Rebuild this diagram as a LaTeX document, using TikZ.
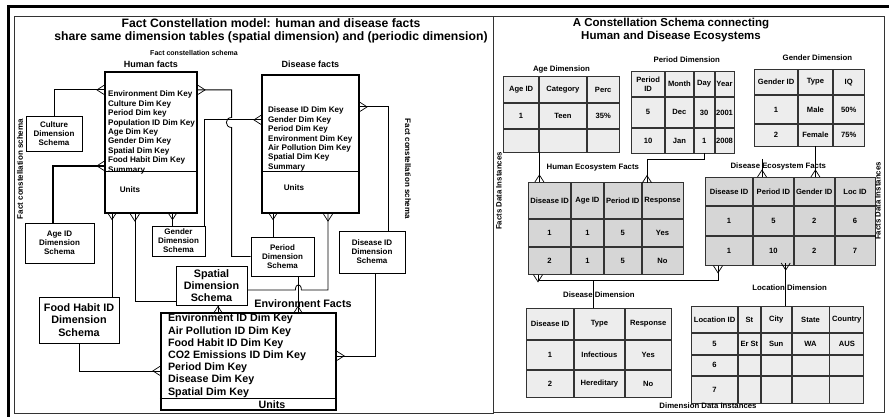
\documentclass[tikz,border=0pt]{standalone}
\usepackage{fontspec}
\setmainfont{Liberation Sans}
\usetikzlibrary{positioning,matrix,arrows.meta}

\pgfdeclarearrow{
  name = crowfoot,
  setup code = {
    \pgfarrowssettipend{0pt}
    \pgfarrowssetlineend{0pt}
    \pgfarrowssetbackend{-7pt}
  },
  drawing code = {
    \pgfsetlinewidth{0.7pt}
    \pgfpathmoveto{\pgfpoint{0pt}{4.5pt}}
    \pgfpathlineto{\pgfpoint{-7pt}{0pt}}
    \pgfpathlineto{\pgfpoint{0pt}{-4.5pt}}
    \pgfusepathqstroke
  }
}

\tikzset{
  ttl/.style={align=center, inner sep=0pt, font=\fontsize{11.5}{13}\selectfont\bfseries},
  hd/.style={inner sep=1pt, font=\fontsize{9}{11}\selectfont\bfseries},
  lbl/.style={inner sep=1pt, font=\fontsize{7.8}{9}\selectfont\bfseries},
  side/.style={inner sep=1pt, font=\fontsize{8}{9}\selectfont\bfseries},
  keys/.style={align=left, inner sep=0pt, font=\fontsize{8.1}{9.4}\selectfont\bfseries},
  bigkeys/.style={align=left, inner sep=0pt, font=\fontsize{10.7}{12.2}\selectfont\bfseries},
  fact/.style={draw, line width=2.2pt},
  schema/.style={draw, line width=0.8pt, align=center, inner sep=1pt, font=\fontsize{8}{9}\selectfont\bfseries},
  bigschema/.style={schema, font=\fontsize{10.8}{12.3}\selectfont\bfseries},
  link/.style={line width=0.8pt, -{crowfoot}},
  tbl/.style={matrix of nodes, nodes in empty cells, inner sep=0pt, row sep=0pt, column sep=0pt,
    nodes={draw=black!80, fill=black!7, line width=0.8pt, inner sep=1pt, outer sep=0pt, anchor=center,
      font=\fontsize{7.6}{8.6}\selectfont\bfseries}},
  facttbl/.style={tbl, nodes={fill=black!16}},
}

\begin{document}
\begin{tikzpicture}[x=1pt, y=-1pt]
\useasboundingbox (0,0) rectangle (889,417);
% frames
\draw[line width=3pt] (8,417) -- (8,7) -- (889,7);
\draw[line width=0.8pt, black!80] (14,16) rectangle (493,413);
\draw[line width=0.8pt, black!80] (493,16) rectangle (884,412);

% left panel: fact constellation model
\node[ttl, font=\fontsize{12.2}{13}\selectfont\bfseries] (ltitle) at (271,30.5) {Fact Constellation model: human and disease facts\\share same dimension tables (spatial dimension) and (periodic dimension)};
\node[lbl, font=\fontsize{7}{8}\selectfont\bfseries] (fcsTop) at (194,53) {Fact constellation schema};
\node[side, rotate=90] (fcsL) at (20,169) {Fact constellation schema};
\node[side, rotate=-90] (fcsR) at (408,169) {Fact constellation schema};

\node[fact, minimum width=92, minimum height=141] (hum) at (151,142.5) {};
\node[hd, above=2pt of hum] (humHead) {Human facts};
\node[keys, anchor=north west] (humK) at ([xshift=4pt, yshift=-20pt]hum.north west) {Environment Dim Key\\Culture Dim Key\\Period Dim key\\Population ID Dim Key\\Age Dim Key\\Gender Dim Key\\Spatial Dim Key\\Food Habit Dim Key\\Summary};
\draw[line width=0.8pt] ([yshift=-101pt]hum.north west) -- ([yshift=-101pt]hum.north east);
\node[keys] (humU) at (130,190) {Units};

\node[fact, minimum width=97, minimum height=138] (dis) at (310.5,144) {};
\node[hd, above=5pt of dis] (disHead) {Disease facts};
\node[keys, anchor=north west] (disK) at ([xshift=7pt, yshift=-33pt]dis.north west) {Disease ID Dim Key\\Gender Dim Key\\Period Dim Key\\Environment Dim Key\\Air Pollution Dim Key\\Spatial Dim Key\\Summary};
\draw[line width=0.8pt] ([yshift=-98pt]dis.north west) -- ([yshift=-98pt]dis.north east);
\node[keys] (disU) at (294,188) {Units};

\node[fact, minimum width=175, minimum height=97] (env) at (248.5,361.5) {};
\node[hd, font=\fontsize{10.8}{12}\selectfont\bfseries, above=3pt of env, xshift=54.5pt] (envHead) {Environment Facts};
\node[bigkeys, anchor=north west] (envK) at ([xshift=8pt, yshift=-2pt]env.north west) {Environment ID Dim Key\\Air Pollution ID Dim Key\\Food Habit ID Dim Key\\CO2 Emissions ID Dim Key\\Period Dim Key\\Disease Dim Key\\Spatial Dim Key};
\draw[line width=0.8pt] ([yshift=-86pt]env.north west) -- ([yshift=-86pt]env.north east);
\node[bigkeys] (envU) at (272,404.5) {Units};

\node[schema, minimum width=56, minimum height=35] (cul) at (54,133.5) {Culture\\Dimension\\Schema};
\node[schema, minimum width=69, minimum height=40] (ageS) at (59.5,243) {Age ID\\Dimension\\Schema};
\node[schema, minimum width=53, minimum height=30] (gen) at (178.5,241) {Gender\\Dimension\\Schema};
\node[schema, minimum width=63, minimum height=39] (perS) at (282.5,256.5) {Period\\Dimension\\Schema};
\node[schema, minimum width=66, minimum height=42] (dsid) at (372,252) {Disease ID\\Dimension\\Schema};
\node[bigschema, minimum width=71, minimum height=39] (spa) at (211.5,285.5) {Spatial\\Dimension\\Schema};
\node[bigschema, minimum width=80, minimum height=46] (food) at (79,320) {Food Habit ID\\Dimension\\Schema};

\draw[link] (cul.north) |- ([yshift=-19pt]hum.north west);
\draw[link, line width=2pt] ([xshift=-7pt]ageS.north) |- ([yshift=-95pt]hum.north west);
\draw[link] (perS.west) -- ++(-19,0) -- ++(0,-129) .. controls +(-7,0) and +(-7,0) .. ++(0,-10) |- ([yshift=-19pt]hum.north east);
\draw[link] ([xshift=-1pt]gen.north east) |- ([yshift=-46pt]dis.north west);
\draw[link] ([xshift=-6pt]gen.north) -- ++(0,-13);
\draw[link] ([xshift=33pt]food.north) -- ++(0,-84);
\draw[link] ([yshift=-16pt]spa.west) -| ([xshift=31pt]hum.south west);
\draw[link] ([xshift=16pt]dsid.north) |- ([yshift=-33pt]dis.north east);
\draw[link] ([xshift=-9.5pt]perS.north) -- ++(0,-24);
\draw[link] ([yshift=-4.5pt]spa.east) -- ++(48,0) .. controls +(0,-7) and +(0,-7) .. ++(6,0) -| ([xshift=17.5pt]dis.south);
\draw[link] ([xshift=15.5pt]perS.south) -- ++(0,37);
\draw[link] ([xshift=6.5pt]spa.south) -- ++(0,8);
\draw[link] (food.south) |- ([yshift=-59pt]env.north west);
\draw[link] ([xshift=3pt]dsid.south) |- ([yshift=-44pt]env.north east);

% right panel: data instances
\node[ttl] (rtitle) at (671,30.5) {A Constellation Schema connecting\\Human and Disease Ecosystems};

\matrix (ageTab) [tbl, anchor=north west,
  column 1/.style={nodes={minimum width=35}}, column 2/.style={nodes={minimum width=47}}, column 3/.style={nodes={minimum width=32}},
  row 1/.style={nodes={minimum height=26}}, row 2/.style={nodes={minimum height=25}}, row 3/.style={nodes={minimum height=23}}] at (503,76) {
  Age ID & Category & Perc \\
  1 & Teen & 35\% \\
  & & \\
};
\matrix (perTab) [tbl, anchor=north west,
  column 1/.style={nodes={minimum width=33}}, column 2/.style={nodes={minimum width=28}}, column 3/.style={nodes={minimum width=20}}, column 4/.style={nodes={minimum width=19}},
  row 1/.style={nodes={minimum height=25}}, row 2/.style={nodes={minimum height=30}}, row 3/.style={nodes={minimum height=25}}] at (631,71) {
  \shortstack{Period\\ID} & Month & Day & Year \\
  5 & Dec & 30 & 2001 \\
  10 & Jan & 1 & 2008 \\
};
\matrix (genTab) [tbl, anchor=north west,
  column 1/.style={nodes={minimum width=43}}, column 2/.style={nodes={minimum width=34}}, column 3/.style={nodes={minimum width=31}},
  row 1/.style={nodes={minimum height=25}}, row 2/.style={nodes={minimum height=28}}, row 3/.style={nodes={minimum height=22}}] at (754,69) {
  Gender ID & Type & IQ \\
  1 & Male & 50\% \\
  2 & Female & 75\% \\
};
\matrix (hecoTab) [facttbl, anchor=north west,
  column 1/.style={nodes={minimum width=42}}, column 2/.style={nodes={minimum width=32}}, column 3/.style={nodes={minimum width=37}}, column 4/.style={nodes={minimum width=41}},
  row 1/.style={nodes={minimum height=36}}, row 2/.style={nodes={minimum height=27}}, row 3/.style={nodes={minimum height=27}}] at (528,182) {
  Disease ID & Age ID & Period ID & Response \\
  1 & 1 & 5 & Yes \\
  2 & 1 & 5 & No \\
};
\matrix (decoTab) [facttbl, anchor=north west,
  column 1/.style={nodes={minimum width=47}}, column 2/.style={nodes={minimum width=40}}, column 3/.style={nodes={minimum width=40}}, column 4/.style={nodes={minimum width=40}},
  row 1/.style={nodes={minimum height=28}}, row 2/.style={nodes={minimum height=29}}, row 3/.style={nodes={minimum height=29}}] at (705,177) {
  Disease ID & Period ID & Gender ID & Loc ID \\
  1 & 5 & 2 & 6 \\
  1 & 10 & 2 & 7 \\
};
\matrix (disTab) [tbl, anchor=north west,
  column 1/.style={nodes={minimum width=47}}, column 2/.style={nodes={minimum width=50}}, column 3/.style={nodes={minimum width=46}},
  row 1/.style={nodes={minimum height=31}}, row 2/.style={nodes={minimum height=29}}, row 3/.style={nodes={minimum height=27}}] at (526,308) {
  Disease ID & Type & Response \\
  1 & Infectious & Yes \\
  2 & Hereditary & No \\
};
\matrix (locTab) [tbl, anchor=north west,
  column 1/.style={nodes={minimum width=46}}, column 2/.style={nodes={minimum width=22}}, column 3/.style={nodes={minimum width=30}}, column 4/.style={nodes={minimum width=37}}, column 5/.style={nodes={minimum width=34}},
  row 1/.style={nodes={minimum height=26}}, row 2/.style={nodes={minimum height=21}}, row 3/.style={nodes={minimum height=20}}, row 4/.style={nodes={minimum height=27}}] at (691,306) {
  Location ID & St & City & State & Country \\
  5 & Er St & Sun & WA & AUS \\
  6 & & & & \\
  7 & & & & \\
};

\node[lbl, above=2pt of ageTab] (ageHead) {Age Dimension};
\node[lbl, above=7pt of perTab, xshift=4pt] (perHead) {Period Dimension};
\node[lbl, above=7pt of genTab, xshift=8pt] (genHead) {Gender Dimension};
\node[lbl, above=10pt of hecoTab, xshift=-13pt] (hecoHead) {Human Ecosystem Facts};
\node[lbl, above=6pt of decoTab, xshift=-12pt] (decoHead) {Disease Ecosystem Facts};
\node[lbl, above=9pt of disTab] (disHead) {Disease Dimension};
\node[lbl, above=14pt of locTab, xshift=12pt] (locHead) {Location Dimension};
\node[lbl] (ddiHead) at (708,406) {Dimension Data Instances};
\node[lbl, rotate=90] (fdiL) at (499,191) {Facts Data Instances};
\node[lbl, rotate=90] (fdiR) at (878,201) {Facts Data Instances};

\coordinate (stub) at (762,159);
\draw[link] (ageTab-3-2.south west) -- (ageTab-3-2.south west |- hecoTab.north);
\draw[link] (perTab-3-3.south) -- ++(0,6) -| ([xshift=5pt]hecoTab-1-4.north west);
\draw[link] (stub) -- (stub |- decoTab.north);
\draw[link] (genTab-3-2.south) -- (genTab-3-2.south |- decoTab.north);
\draw[link] ([xshift=-6pt]disTab.north) -- ++(0,-28) -| ([xshift=10pt]hecoTab.south west);
\draw[link] ([xshift=-6pt]disTab.north) -- ++(0,-28) -| ([xshift=13pt]decoTab.south west);
\draw[link] ([xshift=8pt]locTab.north) -- ++(0,-43);
\end{tikzpicture}
\end{document}
